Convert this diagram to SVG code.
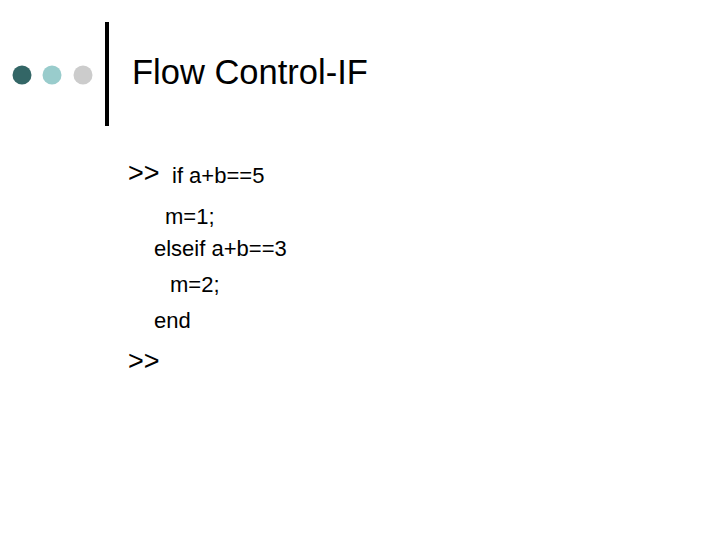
<svg xmlns="http://www.w3.org/2000/svg" width="720" height="540" viewBox="0 0 720 540">
<style>
text{font-family:"Liberation Sans",Arial,sans-serif;fill:#000}
.c{font-size:22px}
.p{font-size:27px}
</style>
<rect width="720" height="540" fill="#fff"/>
<g id="bullets">
<circle cx="22" cy="75" r="9.5" fill="#336666"/>
<circle cx="52" cy="75" r="9.5" fill="#99cccc"/>
<circle cx="83" cy="75" r="9.5" fill="#cccccc"/>
<rect x="105" y="22" width="4" height="104" fill="#000"/>
</g>
<text x="132" y="84" font-size="34.5">Flow Control-IF</text>
<text x="128" y="182" class="p">&gt;&gt;</text>
<text x="172" y="183" class="c">if a+b==5</text>
<text x="165" y="224" class="c">m=1;</text>
<text x="154" y="256" class="c">elseif a+b==3</text>
<text x="170" y="292" class="c">m=2;</text>
<text x="154" y="328" class="c">end</text>
<text x="128" y="370" class="p">&gt;&gt;</text>
</svg>
